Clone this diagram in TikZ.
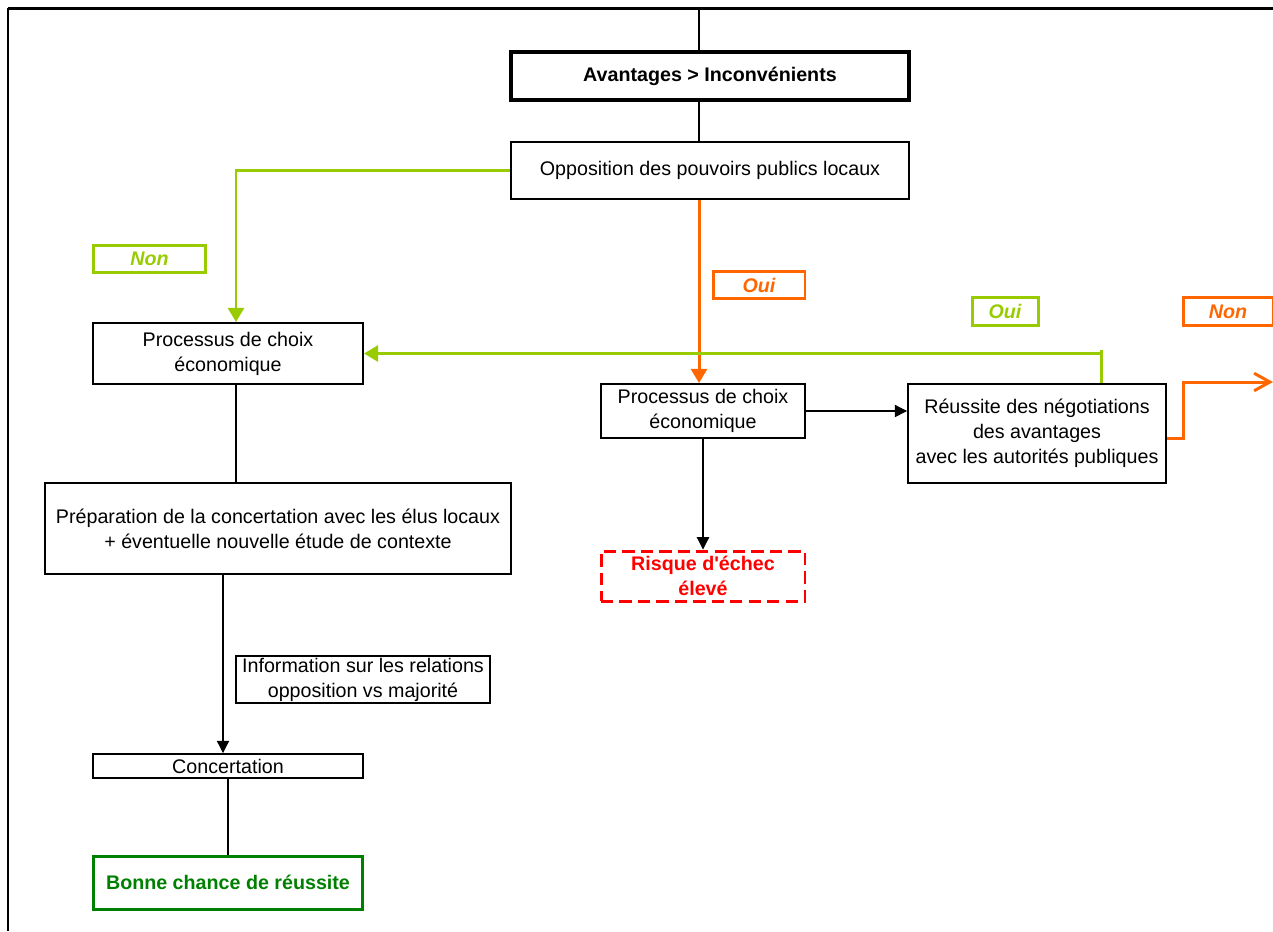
\documentclass[tikz,border=0pt]{standalone}
\usepackage{fontspec}
\setmainfont{Liberation Sans}
\usetikzlibrary{arrows.meta}
\definecolor{clair}{HTML}{99CC00}
\definecolor{orangef}{HTML}{FF6600}
\definecolor{rouge}{HTML}{FF0000}
\definecolor{fonce}{HTML}{008000}
\begin{document}
\begin{tikzpicture}[x=0.02cm,y=-0.02cm,
    every node/.style={font=\fontsize{11.2}{14.2}\selectfont},
    boite/.style={draw,line width=1.1pt,align=center,inner sep=0pt},
    etiq/.style={draw,line width=1.7pt,inner sep=0pt,minimum height=0.55cm,
      font=\fontsize{11.2}{14.2}\selectfont\bfseries\itshape},
    fil/.style={line width=0.6pt},
    fleche/.style={fil,-{Triangle[width=7pt,length=7pt]}},
    grosse/.style={line width=1.7pt,-{Triangle[width=9pt,length=8pt]}}]
  \useasboundingbox (0,0) rectangle (1273,931);
  % cadre
  \draw[line width=1.7pt] (8,8) -- (1273,8);
  \draw[line width=1.2pt] (8,8) -- (8,931);

  % boites
  \node[boite,line width=2.3pt,minimum width=7.96cm,minimum height=0.96cm,font=\fontsize{11.2}{14.2}\selectfont\bfseries]
    (avant) at (710,76) {Avantages > Inconvénients};
  \node[boite,minimum width=7.96cm,minimum height=1.14cm] (oppo) at (710,170.5)
    {Opposition des pouvoirs publics locaux};
  \node[boite,minimum width=5.4cm,minimum height=1.22cm] (procL) at (228,353.5)
    {Processus de choix\\économique};
  \node[boite,minimum width=4.08cm,minimum height=1.08cm] (procM) at (703,411)
    {Processus de choix\\économique};
  \node[boite,minimum width=5.16cm,minimum height=1.98cm] (reuss) at (1037,433.5)
    {Réussite des négotiations\\des avantages\\avec les autorités publiques};
  \node[boite,minimum width=9.32cm,minimum height=1.82cm] (prep) at (278,528.5)
    {Préparation de la concertation avec les élus locaux\\+ éventuelle nouvelle étude de contexte};
  \node[boite,minimum width=5.08cm,minimum height=0.94cm] (info) at (363,679.5)
    {Information sur les relations\\opposition vs majorité};
  \node[boite,minimum width=5.4cm,minimum height=0.48cm] (concert) at (228,766)
    {Concertation};
  \node[boite,draw=fonce,text=fonce,line width=1.7pt,minimum width=5.4cm,minimum height=1.06cm,
    font=\fontsize{11.2}{14.2}\selectfont\bfseries] (bonne) at (228,882.5)
    {Bonne chance de réussite};
  \node[boite,draw=rouge,text=rouge,line width=1.7pt,dash pattern=on 7pt off 3.5pt,
    minimum width=4.08cm,minimum height=1cm,font=\fontsize{11.2}{14.2}\selectfont\bfseries]
    (risque) at (703,576) {Risque d\textquotesingle échec\\élevé};

  % etiquettes
  \node[etiq,draw=clair,text=clair,minimum width=2.26cm] (nonA) at (149.5,259) {Non};
  \node[etiq,draw=orangef,text=orangef,minimum width=1.84cm] (ouiA) at (759,285) {Oui};
  \node[etiq,draw=clair,text=clair,minimum width=1.32cm] (ouiB) at (1005,311.5) {Oui};
  \node[etiq,draw=orangef,text=orangef,minimum width=1.8cm] (nonB) at (1228,311.5) {Non};

  % reperes
  \coordinate (haut) at (699,8);
  \coordinate (gauche) at (236,0);
  \coordinate (retour) at (1101,350);
  \coordinate (sortie) at (1273,382);
  \coordinate (bas) at (223,0);

  % liaisons
  \draw[fil] (haut) -- (haut |- avant.north);
  \draw[fil] (avant.south -| haut) -- (oppo.north -| haut);
  \draw[grosse,draw=clair] (oppo.west) -| (gauche |- procL.north);
  \draw[grosse,draw=orangef] (oppo.south -| haut) -- (procM.north -| haut);
  \draw[line width=1.7pt,draw=clair] (reuss.north -| retour) -- (retour);
  \draw[grosse,draw=clair] (retour |- procL.east) -- (procL.east);
  \draw[fleche] (procM.east) -- (reuss.west |- procM.east);
  \draw[line width=1.7pt,draw=orangef,-{Straight Barb[length=9pt,width=10pt]}]
    ([yshift=-0.09cm]reuss.east) -- ++(0.34cm,0) |- (sortie);
  \draw[fil] (procL.south -| gauche) -- (prep.north -| gauche);
  \draw[fleche] (prep.south -| bas) -- (concert.north -| bas);
  \draw[fil] (concert.south) -- (bonne.north);
  \draw[fleche] (procM.south) -- (risque.north);
\end{tikzpicture}
\end{document}
